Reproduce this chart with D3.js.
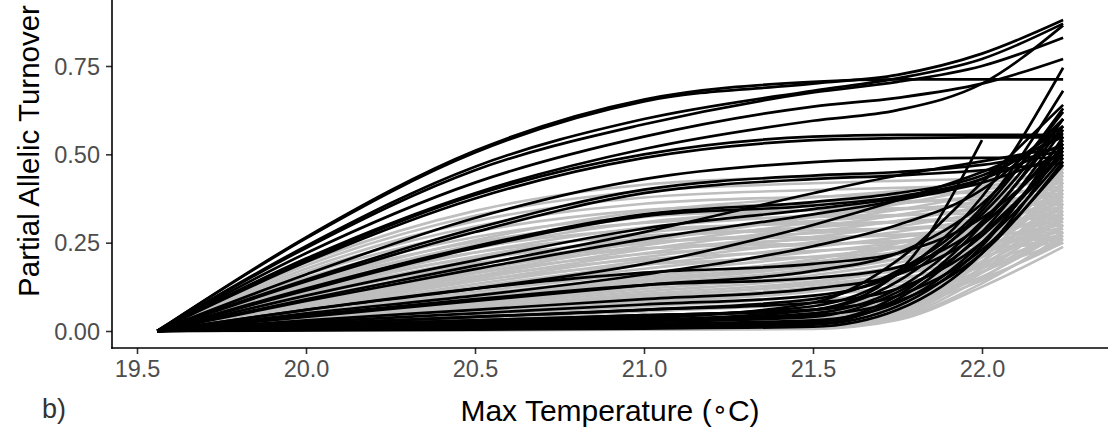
<!DOCTYPE html>
<html>
<head>
<meta charset="utf-8">
<script src="https://cdn.jsdelivr.net/npm/d3@7"></script>
<style>
  html, body { margin: 0; padding: 0; background: #fff; }
  svg { display: block; font-family: "Liberation Sans", Arial, Helvetica, sans-serif; }
</style>
</head>
<body>
<svg id="chart" width="1110" height="446"></svg>
<script>
// Temperatures (°C) at which each turnover spline is sampled
const tempKnots = [19.56, 20.0, 20.5, 21.0, 21.5, 21.75, 22.0, 22.24];

// Axis ticks
const xTicks = [19.5, 20.0, 20.5, 21.0, 21.5, 22.0];
const yTicks = [0, 0.25, 0.5, 0.75];

// Background loci (grey): partial allelic turnover at each knot
const greyTurnover = [
  [0, .193, .340, .414, .437, .444, .451, .46],
  [0, .185, .326, .396, .418, .425, .431, .44],
  [0, .176, .311, .378, .399, .405, .412, .42],
  [0, .168, .296, .360, .380, .386, .392, .40],
  [0, .160, .281, .342, .361, .367, .372, .38],
  [0, .151, .266, .324, .342, .347, .353, .36],
  [0, .143, .252, .306, .323, .328, .333, .34],
  [0, .134, .237, .288, .304, .309, .314, .32],
  [0, .126, .222, .270, .285, .290, .294, .30],
  [0, .118, .207, .252, .266, .270, .274, .28],
  [0, .109, .192, .234, .247, .251, .255, .26],
  [0, .135, .257, .338, .378, .396, .419, .45],
  [0, .129, .245, .323, .361, .378, .400, .43],
  [0, .123, .234, .308, .344, .361, .381, .41],
  [0, .117, .222, .293, .328, .343, .363, .39],
  [0, .111, .211, .278, .311, .326, .344, .37],
  [0, .105, .200, .263, .294, .308, .326, .35],
  [0, .099, .188, .248, .277, .290, .307, .33],
  [0, .093, .177, .233, .260, .273, .288, .31],
  [0, .087, .165, .218, .244, .255, .270, .29],
  [0, .081, .154, .203, .227, .238, .251, .27],
  [0, .075, .143, .188, .210, .220, .233, .25],
  [0, .078, .170, .253, .322, .359, .405, .46],
  [0, .075, .163, .242, .308, .343, .387, .44],
  [0, .071, .155, .231, .294, .328, .370, .42],
  [0, .068, .148, .220, .280, .312, .352, .40],
  [0, .065, .141, .209, .266, .296, .334, .38],
  [0, .061, .133, .198, .252, .281, .317, .36],
  [0, .058, .126, .187, .238, .265, .299, .34],
  [0, .054, .118, .176, .224, .250, .282, .32],
  [0, .051, .111, .165, .210, .234, .264, .30],
  [0, .048, .104, .154, .196, .218, .246, .28],
  [0, .044, .096, .143, .182, .203, .229, .26],
  [0, .045, .099, .153, .203, .248, .324, .45],
  [0, .043, .095, .146, .194, .237, .310, .43],
  [0, .041, .090, .139, .185, .226, .295, .41],
  [0, .039, .086, .133, .176, .215, .281, .39],
  [0, .037, .081, .126, .167, .204, .266, .37],
  [0, .035, .077, .119, .158, .193, .252, .35],
  [0, .033, .073, .112, .149, .182, .238, .33],
  [0, .031, .068, .105, .140, .171, .223, .31],
  [0, .029, .064, .099, .131, .160, .209, .29],
  [0, .027, .059, .092, .122, .149, .194, .27],
  [0, .025, .055, .085, .113, .138, .180, .25],
  [0, .014, .028, .041, .060, .115, .253, .46],
  [0, .013, .026, .040, .057, .110, .242, .44],
  [0, .013, .025, .038, .055, .105, .231, .42],
  [0, .012, .024, .036, .052, .100, .220, .40],
  [0, .011, .023, .034, .049, .095, .209, .38],
  [0, .011, .022, .032, .047, .090, .198, .36],
  [0, .010, .020, .031, .044, .085, .187, .34],
  [0, .010, .019, .029, .042, .080, .176, .32],
  [0, .009, .018, .027, .039, .075, .165, .30],
  [0, .008, .017, .025, .036, .070, .154, .28],
  [0, .008, .016, .023, .034, .065, .143, .26],
  [0, .026, .062, .097, .136, .176, .264, .44],
  [0, .024, .056, .088, .124, .160, .240, .40],
  [0, .022, .050, .079, .112, .144, .216, .36],
  [0, .019, .045, .070, .099, .128, .192, .32],
  [0, .017, .039, .062, .087, .112, .168, .28],
  [0, .015, .035, .055, .078, .100, .150, .25],
  [0, .002, .005, .007, .011, .059, .225, .45],
  [0, .002, .004, .006, .011, .055, .210, .42],
  [0, .002, .004, .006, .010, .051, .195, .39],
  [0, .002, .004, .005, .009, .047, .180, .36],
  [0, .002, .003, .005, .008, .043, .165, .33],
  [0, .002, .003, .005, .008, .039, .150, .30],
  [0, .001, .003, .004, .007, .035, .135, .27],
  [0, .001, .002, .004, .006, .031, .125, .238]
];

// Outlier loci (black): partial allelic turnover at each knot (null = outside range)
const blackTurnover = [
  [0, .265, .510, .655, .705, .712, .712, .712],
  [0, .262, .505, .650, .700, .725, .785, .880],
  [0, .240, .465, .600, .680, .715, .770, .870],
  [0, .235, .455, .585, .675, .705, .750, .830],
  [0, .220, .420, .550, .635, .660, .700, .770],
  [0, .205, .390, .515, .595, .625, .700, .865],
  [0, .200, .385, .500, .550, .555, .555, .555],
  [0, .195, .375, .490, .540, .546, .548, .548],
  [0, .160, .320, .430, .478, .487, .490, .490],
  [0, .145, .290, .400, .440, .450, .470, .510],
  [0, .140, .280, .390, .430, .440, .455, .475],
  [0, .120, .240, .330, .365, .390, .440, .560],
  [0, .115, .235, .325, .355, .380, .430, .530],
  [0, .100, .200, .290, .345, .375, .420, .500],
  [0, .090, .185, .280, .390, .440, .480, .520],
  [0, .085, .175, .260, .330, .370, .430, .580],
  [0, .060, .120, .190, .300, .370, .450, .550],
  [0, .050, .100, .160, .240, .300, .400, .600],
  [0, .040, .085, .130, .170, .220, .360, .620],
  [0, .025, .050, .075, .100, .160, .330, .600],
  [0, .015, .030, .045, .060, .140, .340, .630],
  [0, .010, .020, .030, .050, .120, .310, .580],
  [0, .060, .120, .165, .190, .220, .320, .520],
  [0, .045, .090, .130, .150, .180, .300, .540],
  [0, .005, .010, .015, .025, .100, .300, .600],
  [0, .004, .008, .012, .020, .090, .280, .570],
  [0, .006, .012, .020, .030, .080, .250, .530],
  [0, .003, .006, .010, .018, .070, .240, .550],
  [0, .008, .016, .025, .040, .110, .270, .500],
  [0, .002, .004, .007, .012, .060, .220, .520],
  [0, .010, .020, .030, .045, .085, .220, .480],
  [0, .015, .030, .045, .060, .100, .230, .470],
  [0, .020, .040, .060, .080, .120, .250, .490],
  [0, .030, .060, .090, .120, .160, .280, .510],
  [0, .012, .025, .040, .070, .160, .380, .745],
  [0, .020, .040, .060, .090, .170, .350, .680],
  [0, .008, .016, .030, .060, .165, .540, null],
  [0, .010, .020, .035, .080, .200, .420, .640]
];

const svg = d3.select("#chart");

// Panel bounds
const panelLeft = 112, panelRight = 1108, panelBottom = 348, panelTop = 0;

const x = d3.scaleLinear().domain([19.5, 22.0]).range([137, 982]);
const y = d3.scaleLinear().domain([0, 0.75]).range([331, 66]);

svg.append("defs").append("clipPath").attr("id", "panel")
  .append("rect")
  .attr("x", panelLeft).attr("y", panelTop)
  .attr("width", panelRight - panelLeft).attr("height", panelBottom - panelTop);

const line = d3.line()
  .defined(d => d[1] != null)
  .x(d => x(d[0]))
  .y(d => y(d[1]))
  .curve(d3.curveMonotoneX);

const toPoints = vals => vals.map((v, i) => [tempKnots[i], v]);

const plot = svg.append("g").attr("clip-path", "url(#panel)");

plot.selectAll("path.grey")
  .data(greyTurnover)
  .join("path")
  .attr("class", "grey")
  .attr("d", v => line(toPoints(v)))
  .attr("fill", "none")
  .attr("stroke", "#bebebe")
  .attr("stroke-width", 2.6)
  .attr("stroke-linejoin", "round");

plot.selectAll("path.black")
  .data(blackTurnover)
  .join("path")
  .attr("class", "black")
  .attr("d", v => line(toPoints(v)))
  .attr("fill", "none")
  .attr("stroke", "#000")
  .attr("stroke-width", 2.7)
  .attr("stroke-linejoin", "round");

// Axes (classic theme: lines on left and bottom only)
const xAxis = svg.append("g")
  .attr("transform", `translate(0,${panelBottom})`)
  .call(d3.axisBottom(x).tickValues(xTicks).tickFormat(d3.format(".1f")).tickSize(6).tickPadding(6));
xAxis.select(".domain").remove();

const yAxis = svg.append("g")
  .attr("transform", `translate(${panelLeft},0)`)
  .call(d3.axisLeft(y).tickValues(yTicks).tickFormat(d3.format(".2f")).tickSize(6).tickPadding(6));
yAxis.select(".domain").remove();

[xAxis, yAxis].forEach(g => {
  g.selectAll(".tick line").attr("stroke", "#333").attr("stroke-width", 1.6);
  g.selectAll(".tick text")
    .attr("fill", "#4d4d4d")
    .style("font-size", "23.5px")
    .style("font-family", "'Liberation Sans', Arial, sans-serif");
});
xAxis.selectAll(".tick text").attr("dy", "0.72em");
yAxis.selectAll(".tick text").attr("dy", "0.35em");

svg.append("line")
  .attr("x1", panelLeft).attr("x2", panelLeft)
  .attr("y1", panelTop).attr("y2", panelBottom + 0.8)
  .attr("stroke", "#000").attr("stroke-width", 1.6);
svg.append("line")
  .attr("x1", panelLeft - 0.8).attr("x2", panelRight)
  .attr("y1", panelBottom).attr("y2", panelBottom)
  .attr("stroke", "#000").attr("stroke-width", 1.6);

// Axis titles
const xTitle = svg.append("text")
  .attr("x", (panelLeft + panelRight) / 2)
  .attr("y", 421)
  .attr("text-anchor", "middle")
  .style("font-size", "30px")
  .attr("fill", "#000");
xTitle.append("tspan").text("Max Temperature (");
xTitle.append("tspan").text("\u2218").attr("dy", "-0.12em").style("font-family", "'DejaVu Sans', sans-serif").style("font-size", "26px");
xTitle.append("tspan").text("C)").attr("dy", "0.12em");

svg.append("text")
  .attr("transform", "translate(39,151) rotate(-90)")
  .attr("text-anchor", "middle")
  .style("font-size", "29.5px")
  .attr("fill", "#000")
  .text("Partial Allelic Turnover");

// Panel tag
svg.append("text")
  .attr("x", 42).attr("y", 418)
  .style("font-size", "27px")
  .attr("fill", "#333")
  .text("b)");
</script>
</body>
</html>
